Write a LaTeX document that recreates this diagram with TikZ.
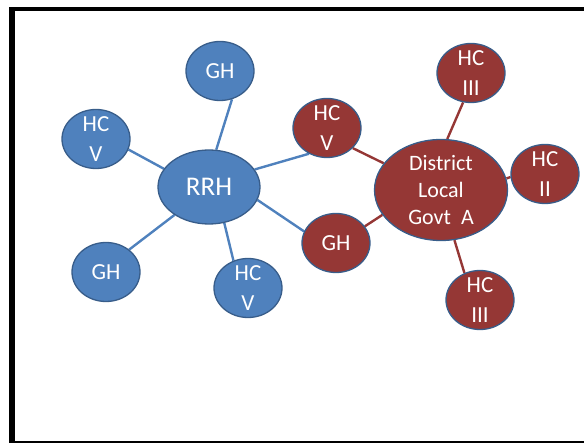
\documentclass[tikz,border=0pt]{standalone}
\usepackage{fontspec}
\setmainfont{Carlito}
\usetikzlibrary{shapes.geometric}
\pgfdeclarelayer{background}
\pgfsetlayers{background,main}
\definecolor{hubblue}{HTML}{4F81BD}
\definecolor{hubred}{HTML}{953735}
\definecolor{rimblue}{HTML}{385D8A}
\begin{document}
\begin{tikzpicture}[x=1pt,y=-1pt,
  facility/.style={ellipse,draw=rimblue,line width=1.3pt,inner sep=0pt,
    minimum width=68pt,minimum height=59pt},
  bluefac/.style={facility,fill=hubblue},
  redfac/.style={facility,fill=hubred},
  caption/.style={text=white,align=center,inner sep=0pt,
    font=\fontsize{23}{30}\selectfont},
  bluelink/.style={draw=hubblue,line width=2.4pt},
  redlink/.style={draw=hubred,line width=2.4pt}]
\useasboundingbox (0,0) rectangle (584,443);
% page frame
\fill[black] (9.3,6.7) rectangle (584,11);
\fill[black] (9.3,6.7) rectangle (15,443);
\fill[black] (9.3,441) rectangle (584,443);
% regional referral hospital cluster
\node[bluefac,minimum width=102pt,minimum height=74pt,
  label={[caption,font=\fontsize{27}{30}\selectfont]center:RRH}] (rrh) at (209,187) {};
\node[bluefac,label={[caption]center:GH}] (gh1) at (220,71) {};
\node[bluefac,label={[caption]center:HC\\V}] (hcv1) at (96,139) {};
\node[bluefac,label={[caption]center:GH}] (gh3) at (106,272) {};
\node[bluefac,label={[caption]center:HC\\V}] (hcv2) at (248,288) {};
% district cluster
\node[redfac,minimum width=133pt,minimum height=101pt,
  label={[caption,font=\fontsize{22}{27}\selectfont]center:District\\Local\\Govt\ \ A}] (dlg) at (441,190) {};
\node[redfac,label={[caption]center:HC\\V}] (hcv3) at (327,128) {};
\node[redfac,label={[caption]center:GH}] (gh2) at (336,243) {};
\node[redfac,label={[caption]center:HC\\III}] (hc3a) at (471,73) {};
\node[redfac,label={[caption]center:HC\\II}] (hc2) at (545,174) {};
\node[redfac,label={[caption]center:HC\\III}] (hc3b) at (480,300) {};
% links
\begin{pgfonlayer}{background}
\draw[bluelink] (rrh.79) -- (gh1.-67);
\draw[bluelink] (rrh.158) -- (hcv1.-18);
\draw[bluelink] (rrh.-141) -- (gh3.44);
\draw[bluelink] (rrh.-67) -- (hcv2.118);
\draw[bluelink] (rrh.21) -- (hcv3.-125);
\draw[bluelink] (rrh.-15) -- (gh2.160);
\draw[redlink] (dlg.155) -- (hcv3.-38);
\draw[redlink] (dlg.-157) -- (gh2.30);
\draw[redlink] (dlg.83) -- (hc3a.-105);
\draw[redlink] (dlg.10) -- (hc2.185);
\draw[redlink] (dlg.-75) -- (hc3b.120);
\end{pgfonlayer}
\end{tikzpicture}
\end{document}
